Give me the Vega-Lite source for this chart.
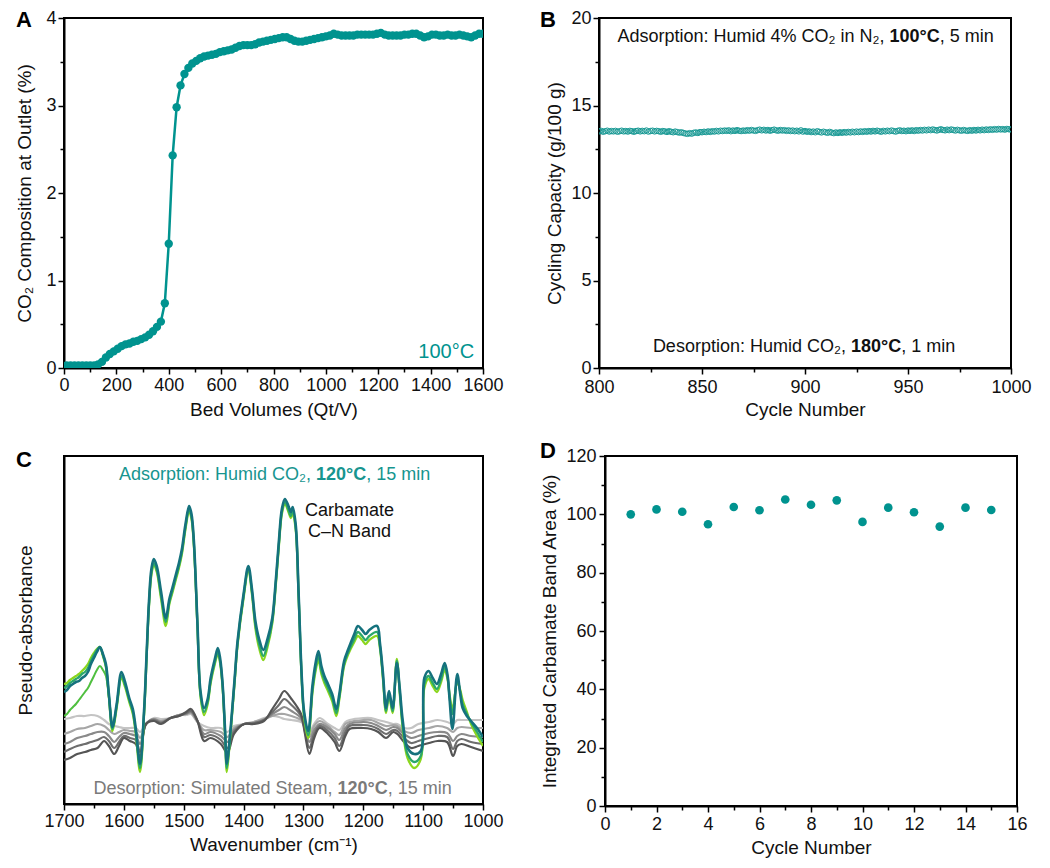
{
  "$schema": "https://vega.github.io/schema/vega-lite/v6.json",
  "padding": {"left": 14, "top": 8, "right": 4, "bottom": 2},
  "background": "white",
  "spacing": 19,
  "config": {
    "font": "Liberation Sans",
    "view": {"stroke": "#000", "strokeWidth": 2},
    "axis": {
      "grid": false, "domainColor": "#000", "domainWidth": 2, "tickColor": "#000", "tickWidth": 1.5,
      "labelFont": "Liberation Sans", "labelFontSize": 18, "labelColor": "#111", "labelPadding": 2,
      "titleFont": "Liberation Sans", "titleFontSize": 19, "titleFontWeight": "normal", "titleColor": "#111",
      "labelOverlap": false, "labelFlush": false, "format": "d"
    },
    "title": {"fontSize": 22, "fontWeight": "bold", "anchor": "start", "frame": "bounds", "font": "Liberation Sans", "baseline": "alphabetic", "offset": -23, "color": "#000"}
  },
  "vconcat": [
    {
      "hconcat": [
        {
          "title": {"text": "A"},
          "width": 419, "height": 350,
          "data": {"values": [
            {"bv":10,"co2":0.03},{"bv":25,"co2":0.03},{"bv":40,"co2":0.03},{"bv":55,"co2":0.03},{"bv":70,"co2":0.03},{"bv":85,"co2":0.03},{"bv":100,"co2":0.03},{"bv":115,"co2":0.03},{"bv":130,"co2":0.04},{"bv":145,"co2":0.07},
            {"bv":160,"co2":0.12},{"bv":175,"co2":0.16},{"bv":190,"co2":0.19},{"bv":205,"co2":0.22},{"bv":220,"co2":0.25},{"bv":235,"co2":0.27},{"bv":250,"co2":0.28},{"bv":265,"co2":0.30},{"bv":280,"co2":0.31},{"bv":295,"co2":0.33},
            {"bv":310,"co2":0.35},{"bv":325,"co2":0.38},{"bv":340,"co2":0.42},{"bv":355,"co2":0.47},{"bv":370,"co2":0.53},{"bv":385,"co2":0.74},{"bv":400,"co2":1.42},{"bv":415,"co2":2.43},{"bv":430,"co2":2.98},{"bv":445,"co2":3.23},
            {"bv":460,"co2":3.36},{"bv":475,"co2":3.43},{"bv":490,"co2":3.48},{"bv":505,"co2":3.51},{"bv":520,"co2":3.54},{"bv":535,"co2":3.56},{"bv":550,"co2":3.57},{"bv":565,"co2":3.58},{"bv":580,"co2":3.59},{"bv":595,"co2":3.61},
            {"bv":610,"co2":3.62},{"bv":625,"co2":3.63},{"bv":640,"co2":3.64},{"bv":655,"co2":3.66},{"bv":670,"co2":3.68},{"bv":685,"co2":3.69},{"bv":700,"co2":3.69},{"bv":715,"co2":3.69},{"bv":730,"co2":3.70},{"bv":745,"co2":3.72},
            {"bv":760,"co2":3.73},{"bv":775,"co2":3.74},{"bv":790,"co2":3.75},{"bv":805,"co2":3.76},{"bv":820,"co2":3.77},{"bv":835,"co2":3.78},{"bv":850,"co2":3.78},{"bv":865,"co2":3.76},{"bv":880,"co2":3.74},{"bv":895,"co2":3.73},
            {"bv":910,"co2":3.73},{"bv":925,"co2":3.74},{"bv":940,"co2":3.75},{"bv":955,"co2":3.76},{"bv":970,"co2":3.77},{"bv":985,"co2":3.78},{"bv":1000,"co2":3.79},{"bv":1015,"co2":3.80},{"bv":1030,"co2":3.82},{"bv":1045,"co2":3.81},
            {"bv":1060,"co2":3.80},{"bv":1075,"co2":3.80},{"bv":1090,"co2":3.80},{"bv":1105,"co2":3.80},{"bv":1120,"co2":3.81},{"bv":1135,"co2":3.81},{"bv":1150,"co2":3.81},{"bv":1165,"co2":3.81},{"bv":1180,"co2":3.81},{"bv":1195,"co2":3.82},
            {"bv":1210,"co2":3.83},{"bv":1225,"co2":3.81},{"bv":1240,"co2":3.80},{"bv":1255,"co2":3.80},{"bv":1270,"co2":3.80},{"bv":1285,"co2":3.80},{"bv":1300,"co2":3.81},{"bv":1315,"co2":3.81},{"bv":1330,"co2":3.82},{"bv":1345,"co2":3.82},
            {"bv":1360,"co2":3.80},{"bv":1375,"co2":3.78},{"bv":1390,"co2":3.79},{"bv":1405,"co2":3.81},{"bv":1420,"co2":3.81},{"bv":1435,"co2":3.80},{"bv":1450,"co2":3.80},{"bv":1465,"co2":3.81},{"bv":1480,"co2":3.80},{"bv":1495,"co2":3.80},
            {"bv":1510,"co2":3.81},{"bv":1525,"co2":3.80},{"bv":1540,"co2":3.79},{"bv":1555,"co2":3.78},{"bv":1570,"co2":3.80},{"bv":1585,"co2":3.82},{"bv":1600,"co2":3.82}
          ]},
          "encoding": {
            "x": {"field": "bv", "type": "quantitative", "scale": {"domain": [0, 1600], "nice": false},
              "axis": {"title": "Bed Volumes (Qt/V)", "values": [0,100,200,300,400,500,600,700,800,900,1000,1100,1200,1300,1400,1500,1600],
                "labelExpr": "datum.value % 200 === 0 ? datum.label : ''",
                "tickSize": {"condition": {"test": "datum.value % 200 === 0", "value": 6}, "value": 4}, "titlePadding": 6}},
            "y": {"field": "co2", "type": "quantitative", "scale": {"domain": [0, 4], "nice": false},
              "axis": {"title": "CO₂ Composition at Outlet (%)", "values": [0,0.5,1,1.5,2,2.5,3,3.5,4],
                "labelExpr": "datum.value % 1 === 0 ? datum.label : ''",
                "tickSize": {"condition": {"test": "datum.value % 1 === 0", "value": 6}, "value": 4}, "titlePadding": 11}}
          },
          "layer": [
            {"mark": {"type": "line", "color": "#00938f", "strokeWidth": 2.5, "clip": true}},
            {"mark": {"type": "point", "filled": true, "color": "#00938f", "opacity": 1, "size": 70, "clip": true}},
            {"data": {"values": [{"bv": 1566, "co2": 0.11, "label": "100°C"}]},
              "mark": {"type": "text", "align": "right", "baseline": "alphabetic", "fontSize": 20, "color": "#00938f", "font": "Liberation Sans"},
              "encoding": {"text": {"field": "label"}}}
          ]
        },
        {
          "title": {"text": "B", "dx": -6},
          "width": 412, "height": 350,
          "layer": [
            {
              "data": {"values": [
                {"cyc":800,"cap":13.52},{"cyc":801,"cap":13.55},{"cyc":802,"cap":13.50},{"cyc":803,"cap":13.53},{"cyc":804,"cap":13.56},{"cyc":805,"cap":13.51},{"cyc":806,"cap":13.54},{"cyc":807,"cap":13.52},{"cyc":808,"cap":13.55},{"cyc":809,"cap":13.50},
                {"cyc":810,"cap":13.53},{"cyc":811,"cap":13.56},{"cyc":812,"cap":13.52},{"cyc":813,"cap":13.54},{"cyc":814,"cap":13.51},{"cyc":815,"cap":13.55},{"cyc":816,"cap":13.53},{"cyc":817,"cap":13.50},{"cyc":818,"cap":13.54},{"cyc":819,"cap":13.56},
                {"cyc":820,"cap":13.52},{"cyc":821,"cap":13.55},{"cyc":822,"cap":13.53},{"cyc":823,"cap":13.57},{"cyc":824,"cap":13.51},{"cyc":825,"cap":13.54},{"cyc":826,"cap":13.56},{"cyc":827,"cap":13.52},{"cyc":828,"cap":13.55},{"cyc":829,"cap":13.53},
                {"cyc":830,"cap":13.50},{"cyc":831,"cap":13.54},{"cyc":832,"cap":13.52},{"cyc":833,"cap":13.49},{"cyc":834,"cap":13.53},{"cyc":835,"cap":13.50},{"cyc":836,"cap":13.47},{"cyc":837,"cap":13.51},{"cyc":838,"cap":13.48},{"cyc":839,"cap":13.45},
                {"cyc":840,"cap":13.47},{"cyc":841,"cap":13.43},{"cyc":842,"cap":13.40},{"cyc":843,"cap":13.38},{"cyc":844,"cap":13.42},{"cyc":845,"cap":13.39},{"cyc":846,"cap":13.44},{"cyc":847,"cap":13.46},{"cyc":848,"cap":13.43},{"cyc":849,"cap":13.48},
                {"cyc":850,"cap":13.47},{"cyc":851,"cap":13.50},{"cyc":852,"cap":13.48},{"cyc":853,"cap":13.52},{"cyc":854,"cap":13.49},{"cyc":855,"cap":13.53},{"cyc":856,"cap":13.51},{"cyc":857,"cap":13.55},{"cyc":858,"cap":13.52},{"cyc":859,"cap":13.56},
                {"cyc":860,"cap":13.54},{"cyc":861,"cap":13.57},{"cyc":862,"cap":13.55},{"cyc":863,"cap":13.58},{"cyc":864,"cap":13.53},{"cyc":865,"cap":13.57},{"cyc":866,"cap":13.55},{"cyc":867,"cap":13.59},{"cyc":868,"cap":13.56},{"cyc":869,"cap":13.54},
                {"cyc":870,"cap":13.57},{"cyc":871,"cap":13.55},{"cyc":872,"cap":13.59},{"cyc":873,"cap":13.56},{"cyc":874,"cap":13.60},{"cyc":875,"cap":13.57},{"cyc":876,"cap":13.55},{"cyc":877,"cap":13.59},{"cyc":878,"cap":13.62},{"cyc":879,"cap":13.58},
                {"cyc":880,"cap":13.61},{"cyc":881,"cap":13.57},{"cyc":882,"cap":13.60},{"cyc":883,"cap":13.56},{"cyc":884,"cap":13.59},{"cyc":885,"cap":13.62},{"cyc":886,"cap":13.58},{"cyc":887,"cap":13.56},{"cyc":888,"cap":13.60},{"cyc":889,"cap":13.57},
                {"cyc":890,"cap":13.59},{"cyc":891,"cap":13.55},{"cyc":892,"cap":13.58},{"cyc":893,"cap":13.54},{"cyc":894,"cap":13.57},{"cyc":895,"cap":13.53},{"cyc":896,"cap":13.56},{"cyc":897,"cap":13.52},{"cyc":898,"cap":13.58},{"cyc":899,"cap":13.51},
                {"cyc":900,"cap":13.54},{"cyc":901,"cap":13.50},{"cyc":902,"cap":13.52},{"cyc":903,"cap":13.48},{"cyc":904,"cap":13.51},{"cyc":905,"cap":13.47},{"cyc":906,"cap":13.53},{"cyc":907,"cap":13.49},{"cyc":908,"cap":13.46},{"cyc":909,"cap":13.50},
                {"cyc":910,"cap":13.47},{"cyc":911,"cap":13.44},{"cyc":912,"cap":13.49},{"cyc":913,"cap":13.45},{"cyc":914,"cap":13.42},{"cyc":915,"cap":13.46},{"cyc":916,"cap":13.43},{"cyc":917,"cap":13.47},{"cyc":918,"cap":13.44},{"cyc":919,"cap":13.48},
                {"cyc":920,"cap":13.45},{"cyc":921,"cap":13.49},{"cyc":922,"cap":13.46},{"cyc":923,"cap":13.50},{"cyc":924,"cap":13.47},{"cyc":925,"cap":13.51},{"cyc":926,"cap":13.48},{"cyc":927,"cap":13.52},{"cyc":928,"cap":13.49},{"cyc":929,"cap":13.53},
                {"cyc":930,"cap":13.50},{"cyc":931,"cap":13.54},{"cyc":932,"cap":13.51},{"cyc":933,"cap":13.55},{"cyc":934,"cap":13.52},{"cyc":935,"cap":13.56},{"cyc":936,"cap":13.53},{"cyc":937,"cap":13.50},{"cyc":938,"cap":13.55},{"cyc":939,"cap":13.52},
                {"cyc":940,"cap":13.56},{"cyc":941,"cap":13.53},{"cyc":942,"cap":13.57},{"cyc":943,"cap":13.54},{"cyc":944,"cap":13.51},{"cyc":945,"cap":13.55},{"cyc":946,"cap":13.58},{"cyc":947,"cap":13.54},{"cyc":948,"cap":13.56},{"cyc":949,"cap":13.53},
                {"cyc":950,"cap":13.57},{"cyc":951,"cap":13.55},{"cyc":952,"cap":13.58},{"cyc":953,"cap":13.54},{"cyc":954,"cap":13.59},{"cyc":955,"cap":13.56},{"cyc":956,"cap":13.60},{"cyc":957,"cap":13.57},{"cyc":958,"cap":13.61},{"cyc":959,"cap":13.58},
                {"cyc":960,"cap":13.62},{"cyc":961,"cap":13.59},{"cyc":962,"cap":13.63},{"cyc":963,"cap":13.60},{"cyc":964,"cap":13.57},{"cyc":965,"cap":13.61},{"cyc":966,"cap":13.64},{"cyc":967,"cap":13.60},{"cyc":968,"cap":13.58},{"cyc":969,"cap":13.62},
                {"cyc":970,"cap":13.59},{"cyc":971,"cap":13.63},{"cyc":972,"cap":13.60},{"cyc":973,"cap":13.57},{"cyc":974,"cap":13.61},{"cyc":975,"cap":13.58},{"cyc":976,"cap":13.56},{"cyc":977,"cap":13.60},{"cyc":978,"cap":13.57},{"cyc":979,"cap":13.55},
                {"cyc":980,"cap":13.59},{"cyc":981,"cap":13.56},{"cyc":982,"cap":13.60},{"cyc":983,"cap":13.57},{"cyc":984,"cap":13.61},{"cyc":985,"cap":13.58},{"cyc":986,"cap":13.62},{"cyc":987,"cap":13.59},{"cyc":988,"cap":13.63},{"cyc":989,"cap":13.60},
                {"cyc":990,"cap":13.64},{"cyc":991,"cap":13.61},{"cyc":992,"cap":13.65},{"cyc":993,"cap":13.62},{"cyc":994,"cap":13.66},{"cyc":995,"cap":13.63},{"cyc":996,"cap":13.65},{"cyc":997,"cap":13.62},{"cyc":998,"cap":13.66},{"cyc":999,"cap":13.64},
                {"cyc":1000,"cap":13.63}
              ]},
              "mark": {"type": "point", "filled": false, "color": "#1a9a95", "strokeWidth": 1, "size": 30, "opacity": 1, "clip": true},
              "encoding": {
                "x": {"field": "cyc", "type": "quantitative", "scale": {"domain": [800, 1000], "nice": false},
                  "axis": {"title": "Cycle Number", "values": [800,825,850,875,900,925,950,975,1000],
                    "labelExpr": "datum.value % 50 === 0 ? datum.label : ''", "labelPadding": 4,
                    "tickSize": {"condition": {"test": "datum.value % 50 === 0", "value": 6}, "value": 4}, "titlePadding": 4}},
                "y": {"field": "cap", "type": "quantitative", "scale": {"domain": [0, 20], "nice": false},
                  "axis": {"title": "Cycling Capacity (g/100 g)", "values": [0,2.5,5,7.5,10,12.5,15,17.5,20],
                    "labelExpr": "datum.value % 5 === 0 ? datum.label : ''",
                    "tickSize": {"condition": {"test": "datum.value % 5 === 0", "value": 6}, "value": 4}, "titlePadding": 6}}
              }
            },
            {
              "data": {"values": [
                {"cyc": 941, "cap": 18.63, "label": "Adsorption: Humid 4% CO₂ in N₂,"},
                {"cyc": 922.3, "cap": 0.93, "label": "Desorption: Humid CO₂,"}
              ]},
              "mark": {"type": "text", "align": "right", "baseline": "alphabetic", "fontSize": 18, "color": "#111", "dx": -5},
              "encoding": {"x": {"field": "cyc", "type": "quantitative"}, "y": {"field": "cap", "type": "quantitative"}, "text": {"field": "label"}}
            },
            {
              "data": {"values": [
                {"cyc": 941, "cap": 18.63, "label": "100°C"},
                {"cyc": 922.3, "cap": 0.93, "label": "180°C"}
              ]},
              "mark": {"type": "text", "align": "left", "baseline": "alphabetic", "fontSize": 18, "fontWeight": "bold", "color": "#111"},
              "encoding": {"x": {"field": "cyc", "type": "quantitative"}, "y": {"field": "cap", "type": "quantitative"}, "text": {"field": "label"}}
            },
            {
              "data": {"values": [
                {"cyc": 965.4, "cap": 18.63, "label": ", 5 min"},
                {"cyc": 946.7, "cap": 0.93, "label": ", 1 min"}
              ]},
              "mark": {"type": "text", "align": "left", "baseline": "alphabetic", "fontSize": 18, "color": "#111"},
              "encoding": {"x": {"field": "cyc", "type": "quantitative"}, "y": {"field": "cap", "type": "quantitative"}, "text": {"field": "label"}}
            }
          ]
        }
      ],
      "spacing": 33
    },
    {
      "hconcat": [
        {
          "title": {"text": "C", "offset": -16},
          "width": 419, "height": 348,
          "encoding": {
            "x": {"field": "wn", "type": "quantitative", "scale": {"domain": [1000, 1700], "reverse": true, "nice": false},
              "axis": {"title": "Wavenumber (cm⁻¹)", "values": [1000,1050,1100,1150,1200,1250,1300,1350,1400,1450,1500,1550,1600,1650,1700],
                "labelExpr": "datum.value % 100 === 0 ? datum.label : ''",
                "tickSize": {"condition": {"test": "datum.value % 100 === 0", "value": 6}, "value": 4}, "titlePadding": 5}}
          },
          "layer": [
            {
              "data": {"name": "des", "values": [
                {"wn":1700,"d1":44,"d2":52,"d3":60,"d4":70,"d5":85},{"wn":1690,"d1":46,"d2":55,"d3":62,"d4":72,"d5":86},{"wn":1678,"d1":50,"d2":58,"d3":66,"d4":75,"d5":88},
                {"wn":1665,"d1":52,"d2":60,"d3":68,"d4":76,"d5":88},{"wn":1655,"d1":54,"d2":62,"d3":70,"d4":78,"d5":89},{"wn":1644,"d1":56,"d2":64,"d3":72,"d4":80,"d5":88},
                {"wn":1633,"d1":63,"d2":67,"d3":72,"d4":78,"d5":84},{"wn":1625,"d1":58,"d2":63,"d3":68,"d4":74,"d5":80},{"wn":1616,"d1":50,"d2":56,"d3":62,"d4":70,"d5":78},
                {"wn":1608,"d1":58,"d2":62,"d3":67,"d4":72,"d5":77},{"wn":1600,"d1":66,"d2":68,"d3":71,"d4":74,"d5":76},{"wn":1590,"d1":63,"d2":66,"d3":70,"d4":73,"d5":76},
                {"wn":1580,"d1":60,"d2":64,"d3":68,"d4":72,"d5":76},{"wn":1573,"d1":46,"d2":52,"d3":60,"d4":66,"d5":72},{"wn":1563,"d1":80,"d2":80,"d3":80,"d4":80,"d5":80},
                {"wn":1550,"d1":83,"d2":84,"d3":85,"d4":85,"d5":86},{"wn":1538,"d1":80,"d2":81,"d3":82,"d4":83,"d5":85},{"wn":1522,"d1":86,"d2":86,"d3":86,"d4":86,"d5":86},
                {"wn":1508,"d1":88,"d2":88,"d3":89,"d4":89,"d5":89},{"wn":1496,"d1":92,"d2":91,"d3":90,"d4":90,"d5":89},{"wn":1488,"d1":95,"d2":93,"d3":92,"d4":91,"d5":90},
                {"wn":1477,"d1":83,"d2":83,"d3":83,"d4":82,"d5":82},{"wn":1466,"d1":63,"d2":67,"d3":70,"d4":74,"d5":78},{"wn":1455,"d1":66,"d2":69,"d3":72,"d4":74,"d5":76},
                {"wn":1438,"d1":60,"d2":64,"d3":68,"d4":72,"d5":76},{"wn":1427,"d1":51,"d2":56,"d3":62,"d4":67,"d5":72},{"wn":1416,"d1":70,"d2":72,"d3":74,"d4":76,"d5":78},
                {"wn":1399,"d1":80,"d2":80,"d3":80,"d4":80,"d5":80},{"wn":1383,"d1":80,"d2":81,"d3":81,"d4":82,"d5":82},{"wn":1366,"d1":83,"d2":84,"d3":84,"d4":85,"d5":86},
                {"wn":1352,"d1":95,"d2":92,"d3":90,"d4":88,"d5":88},{"wn":1341,"d1":105,"d2":99,"d3":94,"d4":90,"d5":87},{"wn":1332,"d1":113,"d2":105,"d3":97,"d4":90,"d5":85},
                {"wn":1320,"d1":105,"d2":99,"d3":93,"d4":88,"d5":84},{"wn":1304,"d1":90,"d2":88,"d3":86,"d4":84,"d5":82},{"wn":1298,"d1":72,"d2":74,"d3":76,"d4":78,"d5":78},
                {"wn":1290,"d1":50,"d2":56,"d3":62,"d4":67,"d5":72},{"wn":1282,"d1":66,"d2":70,"d3":74,"d4":78,"d5":80},{"wn":1273,"d1":76,"d2":78,"d3":80,"d4":83,"d5":86},
                {"wn":1259,"d1":70,"d2":73,"d3":76,"d4":78,"d5":80},{"wn":1248,"d1":62,"d2":66,"d3":70,"d4":72,"d5":76},{"wn":1240,"d1":53,"d2":58,"d3":64,"d4":69,"d5":74},
                {"wn":1230,"d1":68,"d2":72,"d3":76,"d4":80,"d5":82},{"wn":1223,"d1":75,"d2":78,"d3":80,"d4":82,"d5":84},{"wn":1200,"d1":76,"d2":79,"d3":82,"d4":84,"d5":86},
                {"wn":1187,"d1":75,"d2":78,"d3":81,"d4":84,"d5":86},{"wn":1175,"d1":72,"d2":75,"d3":78,"d4":81,"d5":84},{"wn":1162,"d1":66,"d2":70,"d3":74,"d4":78,"d5":82},
                {"wn":1150,"d1":72,"d2":74,"d3":77,"d4":79,"d5":80},{"wn":1143,"d1":70,"d2":73,"d3":76,"d4":78,"d5":80},{"wn":1132,"d1":62,"d2":66,"d3":70,"d4":73,"d5":76},
                {"wn":1120,"d1":56,"d2":61,"d3":66,"d4":71,"d5":76},{"wn":1108,"d1":58,"d2":63,"d3":68,"d4":74,"d5":80},{"wn":1090,"d1":61,"d2":66,"d3":71,"d4":76,"d5":82},
                {"wn":1076,"d1":63,"d2":68,"d3":72,"d4":78,"d5":84},{"wn":1060,"d1":62,"d2":67,"d3":71,"d4":76,"d5":82},{"wn":1050,"d1":48,"d2":55,"d3":63,"d4":72,"d5":80},
                {"wn":1043,"d1":58,"d2":63,"d3":68,"d4":76,"d5":84},{"wn":1036,"d1":60,"d2":65,"d3":70,"d4":77,"d5":84},{"wn":1020,"d1":57,"d2":62,"d3":68,"d4":76,"d5":84},
                {"wn":1000,"d1":53,"d2":60,"d3":67,"d4":76,"d5":84}
              ]},
              "layer": [
                {"mark": {"type": "line", "color": "#c4c4c4", "strokeWidth": 2.2, "interpolate": "catmull-rom", "clip": true},
                  "encoding": {"y": {"field": "d5", "type": "quantitative", "scale": {"domain": [0, 348], "nice": false},
                    "axis": {"title": "Pseudo-absorbance", "labels": false, "ticks": false, "titlePadding": 29}}}},
                {"mark": {"type": "line", "color": "#a6a6a6", "strokeWidth": 2.2, "interpolate": "catmull-rom", "clip": true}, "encoding": {"y": {"field": "d4", "type": "quantitative"}}},
                {"mark": {"type": "line", "color": "#8a8a8a", "strokeWidth": 2.2, "interpolate": "catmull-rom", "clip": true}, "encoding": {"y": {"field": "d3", "type": "quantitative"}}},
                {"mark": {"type": "line", "color": "#6e6e6e", "strokeWidth": 2.2, "interpolate": "catmull-rom", "clip": true}, "encoding": {"y": {"field": "d2", "type": "quantitative"}}},
                {"mark": {"type": "line", "color": "#555555", "strokeWidth": 2.2, "interpolate": "catmull-rom", "clip": true}, "encoding": {"y": {"field": "d1", "type": "quantitative"}}}
              ]
            },
            {
              "data": {"name": "ads", "values": [
                {"wn":1700,"t":112,"g":116,"l":120,"o":88},{"wn":1695,"t":114,"g":118,"l":121,"o":90},{"wn":1690,"t":118,"g":121,"l":124,"o":94},{"wn":1685,"t":120,"g":123,"l":126,"o":97},
                {"wn":1680,"t":122,"g":125,"l":128,"o":100},{"wn":1675,"t":123,"g":127,"l":130,"o":104},{"wn":1670,"t":126,"g":130,"l":133,"o":108},{"wn":1665,"t":128,"g":132,"l":136,"o":112},
                {"wn":1660,"t":132,"g":136,"l":140,"o":116},{"wn":1655,"t":140,"g":143,"l":146,"o":122},{"wn":1650,"t":146,"g":149,"l":151,"o":128},{"wn":1645,"t":152,"g":154,"l":155,"o":134},
                {"wn":1640,"t":157,"g":157,"l":157,"o":138},{"wn":1635,"t":150,"g":149,"l":148,"o":134},{"wn":1630,"t":140,"g":138,"l":137,"o":128},{"wn":1625,"t":110,"g":108,"l":107,"o":107},
                {"wn":1619,"t":77,"g":75,"l":73,"o":75},{"wn":1612,"t":100,"g":98,"l":96},{"wn":1604,"t":132,"g":128,"l":126},{"wn":1598,"t":122,"g":119,"l":117},
                {"wn":1591,"t":106,"g":104,"l":102},{"wn":1585,"t":95,"g":92,"l":90},{"wn":1580,"t":75,"g":72,"l":70},{"wn":1573,"t":40,"g":36,"l":32},
                {"wn":1566,"t":96,"g":94,"l":92},{"wn":1562,"t":150,"g":148,"l":146},{"wn":1558,"t":203,"g":200,"l":198},{"wn":1554,"t":235,"g":231,"l":229},
                {"wn":1550,"t":245,"g":241,"l":239},{"wn":1545,"t":238,"g":234,"l":232},{"wn":1538,"t":213,"g":209,"l":206},{"wn":1530,"t":186,"g":182,"l":178},
                {"wn":1524,"t":205,"g":202,"l":200},{"wn":1519,"t":216,"g":213,"l":211},{"wn":1512,"t":232,"g":229,"l":227},{"wn":1508,"t":241,"g":238,"l":236},
                {"wn":1503,"t":255,"g":252,"l":250},{"wn":1497,"t":280,"g":277,"l":275},{"wn":1491,"t":298,"g":295,"l":293},{"wn":1487,"t":290,"g":287,"l":285},
                {"wn":1483,"t":263,"g":260,"l":258},{"wn":1477,"t":180,"g":178,"l":176},{"wn":1472,"t":113,"g":110,"l":108},{"wn":1466,"t":96,"g":92,"l":89},
                {"wn":1460,"t":105,"g":102,"l":100},{"wn":1455,"t":126,"g":123,"l":121},{"wn":1448,"t":145,"g":142,"l":140},{"wn":1443,"t":156,"g":152,"l":150},
                {"wn":1439,"t":145,"g":142,"l":140},{"wn":1435,"t":120,"g":118,"l":116},{"wn":1431,"t":75,"g":72,"l":70},{"wn":1428,"t":40,"g":36,"l":32},
                {"wn":1424,"t":60,"g":57,"l":55},{"wn":1421,"t":80,"g":78,"l":76},{"wn":1415,"t":125,"g":123,"l":121},{"wn":1410,"t":163,"g":161,"l":159},
                {"wn":1400,"t":210,"g":208,"l":206},{"wn":1392,"t":238,"g":236,"l":234},{"wn":1386,"t":215,"g":212,"l":210},{"wn":1380,"t":182,"g":178,"l":175},
                {"wn":1374,"t":165,"g":160,"l":156},{"wn":1367,"t":154,"g":148,"l":144},{"wn":1360,"t":165,"g":160,"l":157},{"wn":1352,"t":186,"g":183,"l":181},
                {"wn":1346,"t":225,"g":222,"l":220},{"wn":1341,"t":263,"g":260,"l":258},{"wn":1336,"t":295,"g":292,"l":290},{"wn":1331,"t":305,"g":302,"l":300},
                {"wn":1325,"t":298,"g":294,"l":292},{"wn":1321,"t":292,"g":288,"l":286},{"wn":1318,"t":297,"g":293,"l":290},{"wn":1313,"t":280,"g":277,"l":275},
                {"wn":1308,"t":210,"g":208,"l":206},{"wn":1303,"t":130,"g":128,"l":126},{"wn":1299,"t":93,"g":90,"l":88},{"wn":1292,"t":73,"g":69,"l":66},
                {"wn":1285,"t":118,"g":114,"l":111},{"wn":1280,"t":140,"g":135,"l":132},{"wn":1275,"t":153,"g":148,"l":144},{"wn":1270,"t":138,"g":133,"l":130},
                {"wn":1265,"t":128,"g":124,"l":121},{"wn":1259,"t":120,"g":116,"l":113},{"wn":1252,"t":110,"g":106,"l":103},{"wn":1245,"t":95,"g":91,"l":88},
                {"wn":1240,"t":110,"g":107,"l":105},{"wn":1232,"t":143,"g":140,"l":138},{"wn":1225,"t":155,"g":152,"l":150},{"wn":1215,"t":170,"g":165,"l":162},
                {"wn":1209,"t":178,"g":172,"l":168},{"wn":1202,"t":174,"g":168,"l":164},{"wn":1196,"t":170,"g":164,"l":160},{"wn":1190,"t":174,"g":168,"l":164},
                {"wn":1177,"t":178,"g":172,"l":168},{"wn":1172,"t":160,"g":157,"l":155},{"wn":1167,"t":130,"g":126,"l":124},{"wn":1162,"t":96,"g":93,"l":91},
                {"wn":1157,"t":113,"g":110,"l":108},{"wn":1151,"t":96,"g":93,"l":91},{"wn":1144,"t":141,"g":143,"l":145},{"wn":1139,"t":115,"g":112,"l":110},
                {"wn":1134,"t":83,"g":78,"l":75},{"wn":1126,"t":56,"g":50,"l":46},{"wn":1115,"t":50,"g":42,"l":36},{"wn":1104,"t":53,"g":48,"l":45},
                {"wn":1098,"t":126,"g":120,"l":116},{"wn":1091,"t":133,"g":128,"l":125},{"wn":1084,"t":126,"g":121,"l":118},{"wn":1077,"t":120,"g":115,"l":112},
                {"wn":1070,"t":130,"g":125,"l":122},{"wn":1064,"t":141,"g":137,"l":134},{"wn":1059,"t":128,"g":126,"l":124},{"wn":1056,"t":106,"g":108,"l":110},
                {"wn":1051,"t":75,"g":90,"l":95},{"wn":1043,"t":130,"g":125,"l":122},{"wn":1038,"t":110,"g":112,"l":114},{"wn":1034,"t":96,"g":100,"l":104},
                {"wn":1027,"t":88,"g":90,"l":92},{"wn":1020,"t":83,"g":82,"l":80},{"wn":1010,"t":76,"g":72,"l":68},{"wn":1000,"t":67,"g":62,"l":58}
              ]},
              "layer": [
                {"mark": {"type": "line", "color": "#8bd61e", "strokeWidth": 2.3, "interpolate": "catmull-rom", "clip": true}, "encoding": {"y": {"field": "l", "type": "quantitative"}}},
                {"mark": {"type": "line", "color": "#4fbf3f", "strokeWidth": 2, "interpolate": "catmull-rom", "clip": true}, "encoding": {"y": {"field": "o", "type": "quantitative"}}},
                {"mark": {"type": "line", "color": "#2aa86a", "strokeWidth": 2.3, "interpolate": "catmull-rom", "clip": true}, "encoding": {"y": {"field": "g", "type": "quantitative"}}},
                {"mark": {"type": "line", "color": "#15727d", "strokeWidth": 2.6, "interpolate": "catmull-rom", "clip": true}, "encoding": {"y": {"field": "t", "type": "quantitative"}}}
              ]
            },
            {
              "data": {"values": [
                {"wn": 1279, "yv": 323.7, "label": "Adsorption: Humid CO₂,", "grp": "a"},
                {"wn": 1243, "yv": 9.7, "label": "Desorption: Simulated Steam,", "grp": "d"}
              ]},
              "mark": {"type": "text", "align": "right", "baseline": "alphabetic", "fontSize": 18, "dx": -5},
              "encoding": {"y": {"field": "yv", "type": "quantitative"}, "text": {"field": "label"},
                "color": {"field": "grp", "type": "nominal", "scale": {"domain": ["a", "d"], "range": ["#17958f", "#7a7a7a"]}, "legend": null}}
            },
            {
              "data": {"values": [
                {"wn": 1279, "yv": 323.7, "label": "120°C", "grp": "a"},
                {"wn": 1243, "yv": 9.7, "label": "120°C", "grp": "d"}
              ]},
              "mark": {"type": "text", "align": "left", "baseline": "alphabetic", "fontSize": 18, "fontWeight": "bold"},
              "encoding": {"y": {"field": "yv", "type": "quantitative"}, "text": {"field": "label"},
                "color": {"field": "grp", "type": "nominal", "legend": null}}
            },
            {
              "data": {"values": [
                {"wn": 1195, "yv": 323.7, "label": ", 15 min", "grp": "a"},
                {"wn": 1159, "yv": 9.7, "label": ", 15 min", "grp": "d"}
              ]},
              "mark": {"type": "text", "align": "left", "baseline": "alphabetic", "fontSize": 18},
              "encoding": {"y": {"field": "yv", "type": "quantitative"}, "text": {"field": "label"},
                "color": {"field": "grp", "type": "nominal", "legend": null}}
            },
            {
              "data": {"values": [
                {"wn": 1223, "yv": 288, "label": "Carbamate"},
                {"wn": 1223, "yv": 267, "label": "C–N Band"}
              ]},
              "mark": {"type": "text", "align": "center", "baseline": "alphabetic", "fontSize": 18, "color": "#111"},
              "encoding": {"y": {"field": "yv", "type": "quantitative"}, "text": {"field": "label"}}
            }
          ]
        },
        {
          "title": {"text": "D", "dx": -1, "offset": -16},
          "width": 412, "height": 350,
          "data": {"values": [
            {"cycle":1,"area":100.0},{"cycle":2,"area":101.7},{"cycle":3,"area":100.9},{"cycle":4,"area":96.6},{"cycle":5,"area":102.5},
            {"cycle":6,"area":101.4},{"cycle":7,"area":105.1},{"cycle":8,"area":103.3},{"cycle":9,"area":104.8},{"cycle":10,"area":97.4},
            {"cycle":11,"area":102.3},{"cycle":12,"area":100.7},{"cycle":13,"area":95.8},{"cycle":14,"area":102.3},{"cycle":15,"area":101.5}
          ]},
          "mark": {"type": "point", "filled": true, "color": "#00938f", "opacity": 1, "size": 75},
          "encoding": {
            "x": {"field": "cycle", "type": "quantitative", "scale": {"domain": [0, 16], "nice": false},
              "axis": {"title": "Cycle Number", "values": [0,1,2,3,4,5,6,7,8,9,10,11,12,13,14,15,16],
                "labelExpr": "datum.value % 2 === 0 ? datum.label : ''", "labelPadding": 3,
                "tickSize": {"condition": {"test": "datum.value % 2 === 0", "value": 6}, "value": 4}, "titlePadding": 5}},
            "y": {"field": "area", "type": "quantitative", "scale": {"domain": [0, 120], "nice": false},
              "axis": {"title": "Integrated Carbamate Band Area (%)", "values": [0,10,20,30,40,50,60,70,80,90,100,110,120],
                "labelExpr": "datum.value % 20 === 0 ? datum.label : ''", "labelPadding": 3,
                "tickSize": {"condition": {"test": "datum.value % 20 === 0", "value": 6}, "value": 4}, "titlePadding": 6}}
          }
        }
      ],
      "spacing": 33
    }
  ]
}
